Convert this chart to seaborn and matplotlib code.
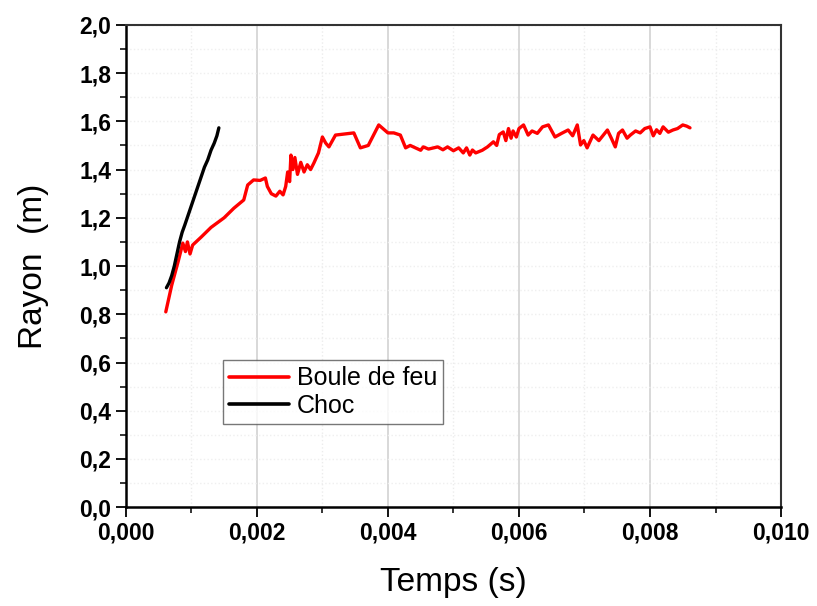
import numpy as np
import pandas as pd
import matplotlib
matplotlib.use("Agg")
import matplotlib.pyplot as plt
from matplotlib.ticker import MultipleLocator, FuncFormatter
import seaborn as sns

# Boule de feu (red)
temps_feu = [0.00061, 0.00070, 0.00080, 0.00087, 0.00091, 0.00094, 0.00098, 0.00102,
             0.00115, 0.00130, 0.00150, 0.00165, 0.00180, 0.00186, 0.00195, 0.00205,
             0.00213, 0.00216, 0.00222, 0.00229, 0.00235, 0.00240, 0.00244, 0.00247,
             0.00250, 0.00252, 0.00255, 0.00258, 0.00262, 0.00267, 0.00272, 0.00277,
             0.00282, 0.00287, 0.00294, 0.00300, 0.00305, 0.00310, 0.00320, 0.00348,
             0.00358, 0.00370, 0.00386, 0.00400, 0.00409, 0.00419, 0.00427, 0.00434,
             0.00450, 0.00454, 0.00462, 0.00476, 0.00484, 0.00491, 0.00500, 0.00508,
             0.00515, 0.00520, 0.00525, 0.00529, 0.00534, 0.00544, 0.00552, 0.00561,
             0.00566, 0.00570, 0.00576, 0.00580, 0.00584, 0.00588, 0.00591, 0.00596,
             0.00600, 0.00607, 0.00614, 0.00620, 0.00628, 0.00636, 0.00645, 0.00655,
             0.00665, 0.00675, 0.00682, 0.00689, 0.00694, 0.00699, 0.00704, 0.00713,
             0.00722, 0.00735, 0.00741, 0.00747, 0.00752, 0.00758, 0.00765, 0.00770,
             0.00778, 0.00785, 0.00792, 0.00800, 0.00805, 0.00810, 0.00815, 0.00820,
             0.00828, 0.00835, 0.00842, 0.00850, 0.00856, 0.00861]
rayon_feu = [0.81, 0.92, 1.02, 1.095, 1.06, 1.10, 1.05, 1.087,
             1.12, 1.16, 1.20, 1.24, 1.274, 1.336, 1.357, 1.355,
             1.365, 1.33, 1.30, 1.29, 1.31, 1.295, 1.33, 1.39,
             1.35, 1.46, 1.40, 1.45, 1.38, 1.43, 1.39, 1.42,
             1.40, 1.427, 1.469, 1.535, 1.51, 1.494, 1.543, 1.552,
             1.49, 1.50, 1.585, 1.552, 1.552, 1.543, 1.49, 1.50,
             1.48, 1.494, 1.485, 1.494, 1.482, 1.494, 1.478, 1.49,
             1.469, 1.49, 1.46, 1.481, 1.469, 1.48, 1.494, 1.515,
             1.50, 1.545, 1.556, 1.52, 1.57, 1.53, 1.56, 1.535,
             1.57, 1.585, 1.543, 1.56, 1.55, 1.577, 1.585, 1.535,
             1.55, 1.564, 1.54, 1.585, 1.502, 1.52, 1.49, 1.543,
             1.52, 1.564, 1.53, 1.494, 1.55, 1.564, 1.53, 1.543,
             1.56, 1.552, 1.57, 1.577, 1.54, 1.565, 1.55, 1.577,
             1.555, 1.564, 1.57, 1.585, 1.58, 1.573]

# Choc (black)
temps_choc = [0.00062, 0.00066, 0.00070, 0.00074, 0.00078, 0.00082, 0.00086, 0.00090,
              0.00095, 0.00100, 0.00105, 0.00110, 0.00115, 0.00120, 0.00125, 0.00130,
              0.00135, 0.00139, 0.00142]
rayon_choc = [0.91, 0.93, 0.96, 1.00, 1.05, 1.10, 1.14, 1.17,
              1.21, 1.25, 1.29, 1.33, 1.37, 1.41, 1.44, 1.48,
              1.51, 1.54, 1.573]

df = pd.concat([
    pd.DataFrame({"Temps": temps_feu, "Rayon": rayon_feu, "Serie": "Boule de feu"}),
    pd.DataFrame({"Temps": temps_choc, "Rayon": rayon_choc, "Serie": "Choc"}),
])

sns.set_style("white")
plt.rcParams["font.family"] = ["Liberation Sans", "DejaVu Sans"]
plt.rcParams["text.color"] = "black"
plt.rcParams["axes.labelcolor"] = "black"

fig = plt.figure(figsize=(8.17, 6.06), dpi=100)
ax = fig.add_axes([0.154, 0.163, 0.802, 0.796])

# grid first so lines sit above it
ax.xaxis.set_major_locator(MultipleLocator(0.002))
ax.xaxis.set_minor_locator(MultipleLocator(0.001))
ax.yaxis.set_major_locator(MultipleLocator(0.2))
ax.yaxis.set_minor_locator(MultipleLocator(0.1))
ax.grid(True, which="major", axis="x", color="#d2d2d2", linewidth=1.2)
ax.grid(True, which="minor", axis="x", color="#ececec", linewidth=1, linestyle=":")
ax.grid(True, which="both", axis="y", color="#efefef", linewidth=1, linestyle=":")
ax.set_axisbelow(True)

sns.lineplot(data=df, x="Temps", y="Rayon", hue="Serie", sort=False,
             palette={"Boule de feu": "#ff0000", "Choc": "#000000"},
             linewidth=2.4, ax=ax, estimator=None)

ax.set_xlim(0, 0.010)
ax.set_ylim(0, 2.0)

ax.xaxis.set_major_formatter(FuncFormatter(lambda v, p: f"{v:.3f}".replace(".", ",")))
ax.yaxis.set_major_formatter(FuncFormatter(lambda v, p: f"{v:.1f}".replace(".", ",")))

ax.tick_params(axis="both", which="major", direction="out", length=7, width=1.3,
               labelsize=16.5, colors="black", bottom=True, left=True)
ax.tick_params(axis="both", which="minor", direction="out", length=4, width=1.1,
               colors="black", bottom=True, left=True)
for lab in ax.get_xticklabels() + ax.get_yticklabels():
    lab.set_fontweight("bold")

for side in ["bottom", "left"]:
    ax.spines[side].set_linewidth(1.8)
    ax.spines[side].set_color("black")
for side in ["top", "right"]:
    ax.spines[side].set_linewidth(1.5)
    ax.spines[side].set_color("#333333")
for s in ax.spines.values():
    s.set_visible(True)

ax.set_xlabel("Temps (s)", fontsize=24, labelpad=16)
ax.set_ylabel("Rayon  (m)", fontsize=24, labelpad=22)

leg = ax.legend(loc="upper left", bbox_to_anchor=(0.148, 0.305), fontsize=18,
                frameon=True, fancybox=False, edgecolor="#555555",
                handlelength=2.4, handletextpad=0.3, borderpad=0.25,
                labelspacing=0.15, borderaxespad=0)
leg.get_frame().set_linewidth(1)
for h in leg.get_lines():
    h.set_linewidth(2.6)

plt.savefig("out.png", dpi=100)
